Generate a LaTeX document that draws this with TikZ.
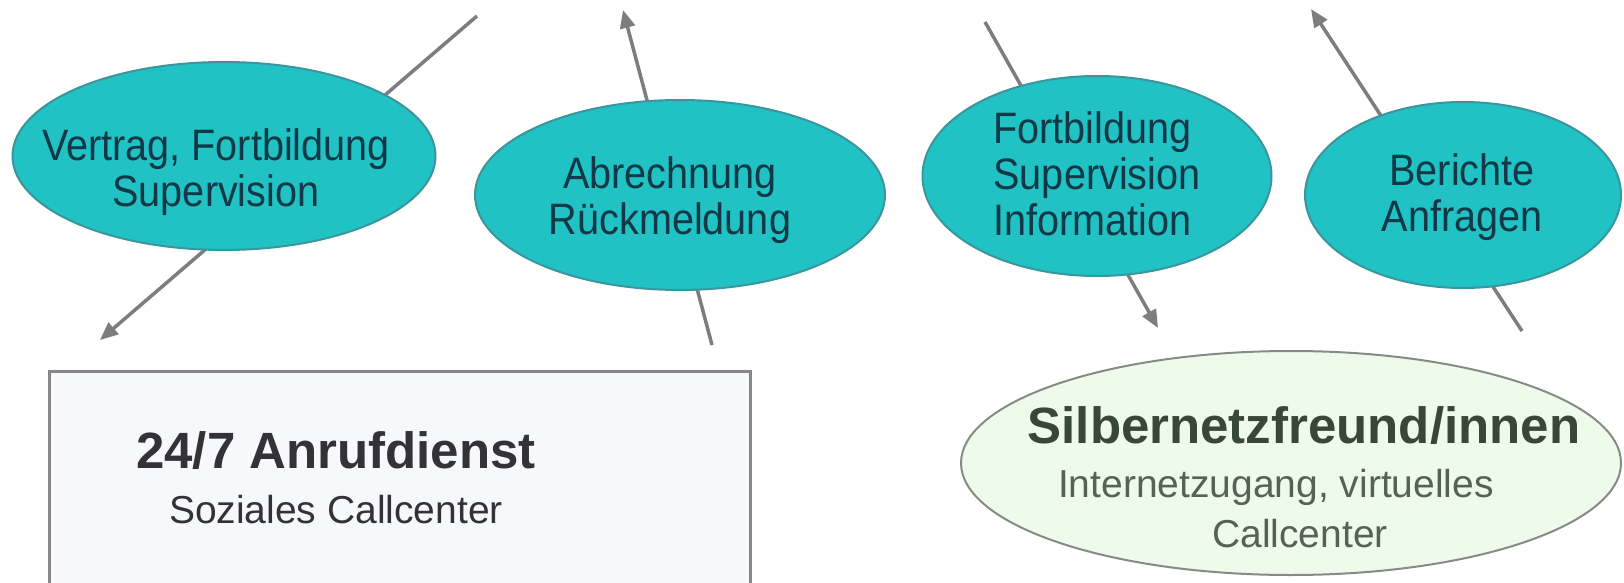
\documentclass[tikz,border=0pt]{standalone}
\usepackage{fontspec}
\setmainfont{Liberation Sans}
\newfontfamily\bubblefont[FakeStretch=0.9]{Liberation Sans}
\usetikzlibrary{arrows.meta,shapes.geometric,positioning}
\definecolor{tealfill}{RGB}{33,194,196}
\definecolor{tealline}{RGB}{58,150,156}
\definecolor{tealtext}{RGB}{16,56,70}
\definecolor{flowgray}{RGB}{125,125,128}
\definecolor{mintfill}{RGB}{238,250,234}
\definecolor{mintline}{RGB}{135,138,135}
\definecolor{minttext}{RGB}{55,72,55}
\definecolor{boxfill}{RGB}{246,248,252}
\definecolor{boxline}{RGB}{135,135,138}
\definecolor{boxtext}{RGB}{50,50,56}

\begin{document}
\begin{tikzpicture}[
    x=1pt, y=-1pt,
    bubble/.style={ellipse, draw=tealline, fill=tealfill, line width=2pt, inner sep=0pt},
    bubtext/.style={font=\bubblefont\fontsize{44}{46}\selectfont, text=tealtext,
                    align=center, inner sep=0pt},
    flow/.style={draw=flowgray, line width=3.5pt, -{Triangle[length=18pt,width=15pt]}},
    mint/.style={ellipse, draw=mintline, fill=mintfill, line width=2pt, inner sep=0pt},
    callbox/.style={rectangle, draw=boxline, fill=boxfill, line width=2.5pt,
                    anchor=north west, inner sep=0pt},
    bigtext/.style={font=\bfseries\fontsize{51}{51}\selectfont, anchor=base, inner sep=0pt},
    smalltext/.style={font=\fontsize{39}{39}\selectfont, anchor=base, inner sep=0pt}
]
    \useasboundingbox (0,0) rectangle (1624,583);
    \clip (0,0) rectangle (1624,583);

    % Arrows (behind the bubbles)
    \coordinate (vertragA) at (477,16);
    \coordinate (vertragB) at (100,340);
    \coordinate (abrechA) at (712,345);
    \coordinate (abrechB) at (623,10);
    \coordinate (fortbA) at (985,22);
    \coordinate (fortbB) at (1158,328);
    \coordinate (berichtA) at (1522,331);
    \coordinate (berichtB) at (1311,9);
    \draw[flow] (vertragA) -- (vertragB);
    \draw[flow] (abrechA) -- (abrechB);
    \draw[flow] (fortbA) -- (fortbB);
    \draw[flow] (berichtA) -- (berichtB);

    % Bubbles
    \node[bubble, minimum width=423pt, minimum height=188pt] (vertrag) at (224,156) {};
    \node[bubble, minimum width=410pt, minimum height=190pt] (abrech) at (680,195) {};
    \node[bubble, minimum width=349pt, minimum height=200pt] (fortb) at (1097,176) {};
    \node[bubble, minimum width=316pt, minimum height=186pt] (bericht) at (1463,195) {};

    \node[bubtext] (vertragtxt) at (216,172) {Vertrag, Fortbildung\\Supervision};
    \node[bubtext] (abrechtxt) at (670,200) {Abrechnung\\R\"uckmeldung};
    \node[bubtext, align=left] (fortbtxt) at (1097,174) {Fortbildung\\Supervision\\Information};
    \node[bubtext] (berichttxt) at (1462,197) {Berichte\\Anfragen};

    % Call centre
    \node[callbox, minimum width=701pt, minimum height=260pt] (anruf) at (48,370) {};
    \node[bigtext, text=boxtext] (anrufname) at (336,468) {24/7 Anrufdienst};
    \node[smalltext, text=boxtext] (anrufsub) at (336,523) {Soziales Callcenter};

    % Silbernetz friends
    \node[mint, minimum width=660pt, minimum height=224pt] (silber) at (1291,463) {};
    \node[bigtext, text=minttext] (silbername) at (1304,443) {Silbernetzfreund/innen};
    \node[smalltext, text=minttext!85] (silberinfo) at (1276,497) {Internetzugang, virtuelles};
    \node[smalltext, text=minttext!85] (silbercc) at (1300,547) {Callcenter};
\end{tikzpicture}
\end{document}
